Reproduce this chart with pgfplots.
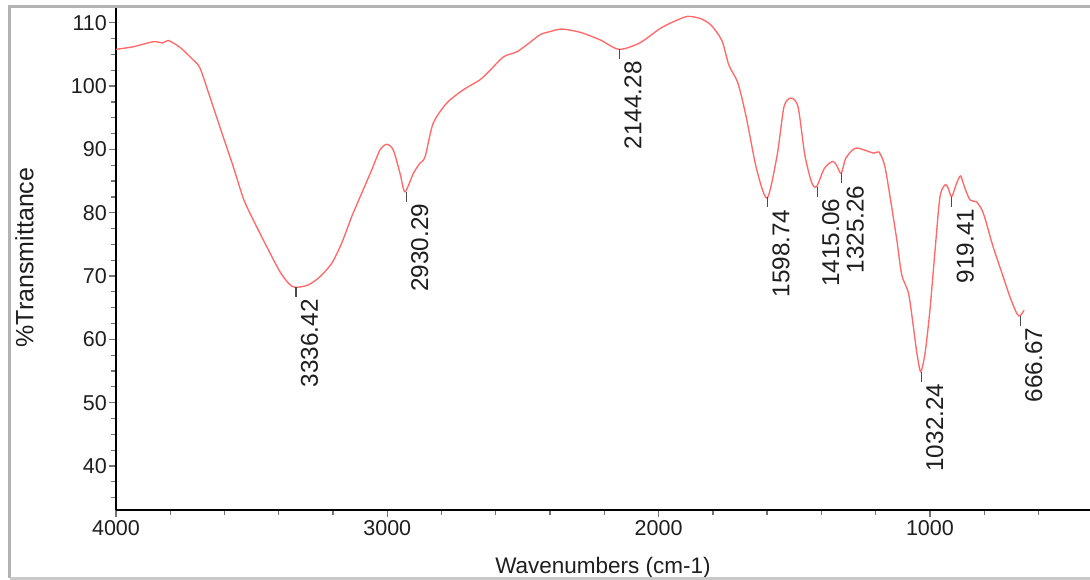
\documentclass[border=0pt]{standalone}
\usepackage{fontspec}
\setmainfont{Liberation Sans}
\usepackage{pgfplots}
\usepackage{pgfplotstable}
\pgfplotsset{compat=1.18}
\definecolor{curve}{RGB}{255,105,105}
\definecolor{frame}{RGB}{178,178,178}
\definecolor{txt}{RGB}{30,30,30}
\pgfdeclareplotmark{pk}{\pgfpathmoveto{\pgfqpoint{0pt}{0pt}}\pgfpathlineto{\pgfqpoint{0pt}{-10pt}}\pgfusepathqstroke}

\pgfplotstableread{
w T
4000 105.8
3937 106.2
3862 107.0
3827 106.8
3807 107.2
3764 106.1
3715 104.1
3690 102.8
3654 98.3
3605 92.0
3568 87.3
3531 82.3
3506 79.9
3469 76.7
3432 73.6
3396 70.7
3365 68.9
3340 68.2
3291 68.6
3248 69.9
3205 72.0
3168 75.2
3131 79.4
3094 83.1
3058 86.7
3027 89.9
3002 90.8
2978 89.9
2953 86.2
2935 83.3
2904 86.2
2880 87.8
2861 88.8
2831 94.1
2781 97.3
2720 99.4
2658 101.0
2621 102.5
2572 104.6
2523 105.4
2486 106.5
2437 108.1
2400 108.6
2357 109.0
2290 108.5
2216 107.3
2146 105.8
2070 106.8
1994 109.1
1943 110.2
1893 111.0
1842 110.6
1804 109.5
1766 107.1
1741 103.3
1708 100.5
1677 95.1
1639 86.9
1600 82.3
1563 89.1
1538 96.7
1512 98.1
1486 96.7
1461 89.1
1436 84.8
1418 84.1
1389 87.0
1359 88.1
1344 87.5
1327 86.2
1310 88.6
1273 90.2
1207 89.4
1188 89.6
1166 87.3
1141 80.9
1122 75.7
1104 70.2
1079 67.3
1061 62.0
1048 57.8
1034 54.9
1018 57.8
1000 64.6
981 74.1
963 82.5
944 84.4
932 83.8
920 82.5
902 84.6
887 85.8
873 84.1
852 82.0
828 81.7
803 79.9
767 74.6
730 69.9
705 66.7
680 64.1
668 63.7
653 64.6
}\spectrum

\pgfplotstableread{
w T lab
3336.42 68.2 3336.42
2930.29 83.3 2930.29
2144.28 105.8 2144.28
1598.74 82.4 1598.74
1415.06 84.1 1415.06
1325.26 86.2 1325.26
1032.24 54.9 1032.24
919.41 82.5 919.41
666.67 63.7 666.67
}\peaks

\begin{document}
\begin{tikzpicture}[x=1pt,y=1pt]
\useasboundingbox (0,0) rectangle (1090,580);
\begin{axis}[
  at={(116pt,70pt)}, anchor=south west,
  scale only axis, width=974pt, height=505pt,
  x dir=reverse, xmin=410, xmax=4000, ymin=33.05, ymax=112.8,
  axis x line*=bottom, axis y line*=left,
  axis line style={line width=2.4pt, black},
  xtick={1000,2000,3000,4000},
  minor xtick={600,800,...,4000},
  ytick={40,50,...,110},
  minor ytick={35,37.5,...,112.5},
  tick align=outside, major tick length=7pt, minor tick length=5pt,
  every tick/.style={line width=1.3pt, color=black!55},
  /pgf/number format/.cd, 1000 sep={}, assume math mode=true, /pgfplots/.cd,
  ticklabel style={font=\fontsize{21.5}{21.5}\selectfont, text=txt},
  yticklabel style={anchor=east, inner sep=0pt, xshift=-2pt},
  xticklabel style={anchor=north, inner sep=0pt, yshift=-3.5pt},
  xlabel={Wavenumbers (cm-1)},
  ylabel={\%Transmittance},
  xlabel style={font=\fontsize{22.5}{22}\selectfont, text=txt, at={(axis description cs:0.5,-0.1248)}, anchor=base, inner sep=0pt},
  ylabel style={font=\fontsize{25}{25}\selectfont, text=txt, at={(axis description cs:-0.0849,0.5)}, anchor=base, inner sep=0pt},
  clip=false,
]
\addplot[color=curve, line width=1.35pt, smooth, tension=0.45] table[x=w,y=T] {\spectrum};
\addplot[only marks, mark=pk, mark options={draw=black!70, line width=1.1pt},
  point meta=explicit symbolic,
  nodes near coords={\pgfplotspointmeta},
  nodes near coords style={font=\fontsize{24.3}{24}\selectfont, text=txt, inner sep=0pt, xshift=13.5pt, yshift=-11.5pt, anchor=east, rotate=90}]
  table[x=w,y=T,meta=lab] {\peaks};
\end{axis}
\draw[frame, line width=2.6pt] (9.5,2) -- (9.5,573.5) -- (1095,573.5);
\draw[frame!70, line width=2.6pt] (9.5,1.3) -- (1095,1.3);
\end{tikzpicture}
\end{document}
